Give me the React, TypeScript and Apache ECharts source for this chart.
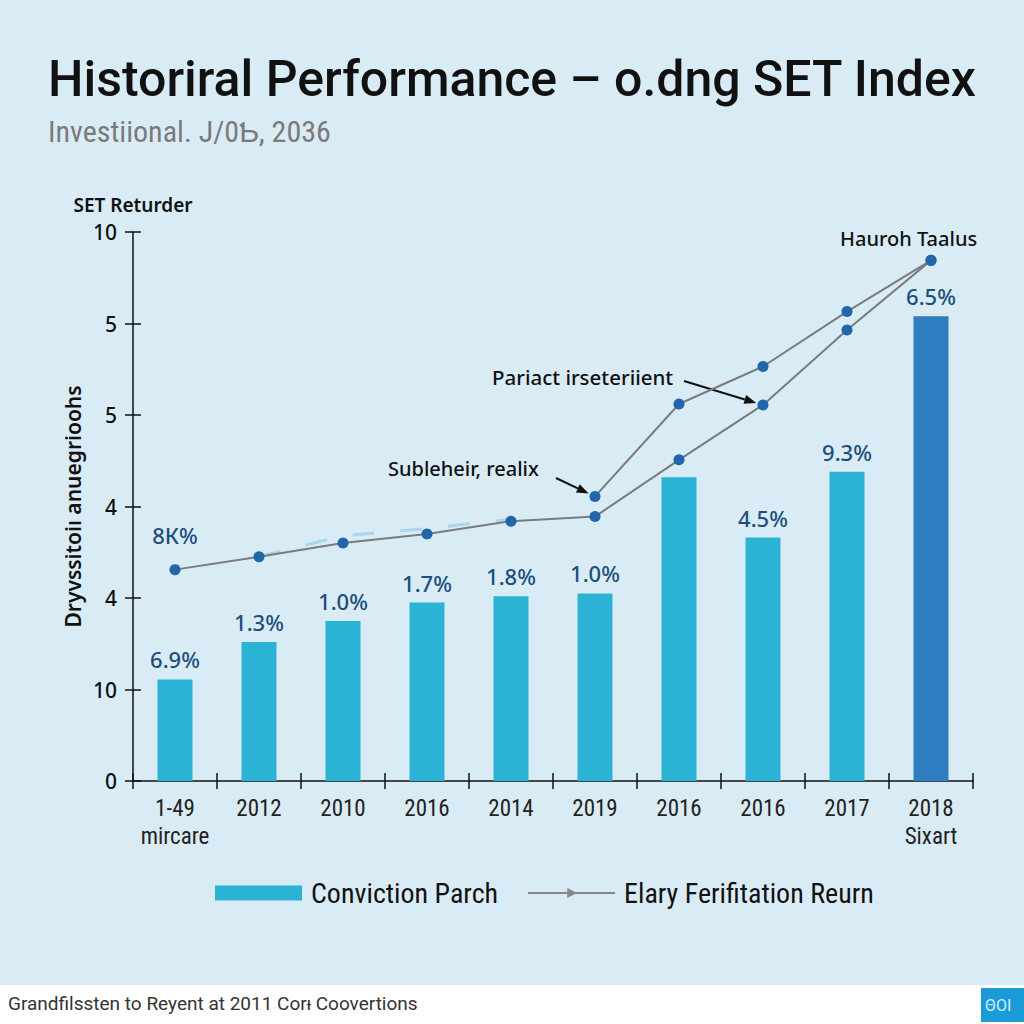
import React, { useEffect, useRef } from "react";
import * as echarts from "echarts";

const categories = ["1-49\nmircare", "2012", "2010", "2016", "2014", "2019", "2016", "2016", "2017", "2018\nSixart"];
const barValues = [1.11, 1.52, 1.75, 1.95, 2.02, 2.05, 3.32, 2.66, 3.38, 5.08];
const barLabels = ["6.9%", "1.3%", "1.0%", "1.7%", "1.8%", "1.0%", "", "4.5%", "9.3%", "6.5%"];
const lineAValues = [2.31, 2.45, 2.6, 2.7, 2.84, 2.89, 3.51, 4.11, 4.93, 5.69];
const lineALabels = ["8К%", "", "", "", "", "", "", "", "", ""];
const lineBValues = [null, null, null, null, null, 3.11, 4.12, 4.53, 5.13, 5.69];
const ghostValues = [null, 2.45, 2.68, 2.76, 2.86, null, null, null, null, null];
const yTickLabels = ["0", "10", "4", "4", "5", "5", "10"];

const titleText = "Historiral Performance – o.dng SET Index";
const subtitleText = "Investiional. J/0Ƅ, 2036";
const yAxisTopName = "SET Returder";
const yAxisSideName = "Dryvssitoiı anuegrioohs";
const barSeriesName = "Conviction Parch";
const lineSeriesName = "Elary Ferifitation Reurn";
const lineBSeriesName = "Upper Return";
const footerText = "Grandfilssten to Reyent at 2011 Corᵻ Coovertions";
const annotationTop = "Hauroh Taalus";
const annotationMid = "Pariact irseteriient";
const annotationLow = "Subleheir, realix";

const NARROW = "'Liberation Sans Narrow', 'Roboto Condensed', Roboto, sans-serif";
const SANS = "'Noto Sans', 'Open Sans', sans-serif";
const BAR = "#2bb3d6";
const BAR_LAST = "#2d7dc0";
const DOT = "#1f66ab";
const LINE = "#7b7b7b";
const LABEL = "#1d4f7c";

export default function App() {
  const ref = useRef<HTMLDivElement>(null);
  useEffect(() => {
    if (!ref.current) return;
    const chart = echarts.init(ref.current, null, { renderer: "svg" });
    const option: any = {
      animation: false,
      backgroundColor: "#d9ecf6",
      title: {
        text: titleText,
        subtext: subtitleText,
        left: 43,
        top: 49,
        itemGap: 12,
        textStyle: { fontFamily: "Roboto, sans-serif", fontSize: 50, fontWeight: 500, color: "#111" },
        subtextStyle: { fontFamily: NARROW, fontSize: 30, color: "#7a7a7a" },
      },
      legend: {
        left: 210,
        top: 874,
        itemGap: 30,
        itemWidth: 87,
        itemHeight: 15,
        textStyle: { fontFamily: NARROW, fontSize: 28, color: "#111", padding: [0, 0, 0, 4] },
        data: [
          { name: barSeriesName, icon: "rect" },
          {
            name: lineSeriesName,
            icon: "path://M0,6L80,6L80,8L0,8Z M36,2.5L45,7L36,11.5Z",
            itemStyle: { color: "#888" },
          },
        ],
      },
      grid: { left: 133, right: 51, top: 232, bottom: 243, containLabel: false },
      xAxis: [
        {
          type: "category",
          data: categories,
          axisLine: { lineStyle: { color: "#111", width: 1.5 } },
          axisTick: { show: true, length: 8, lineStyle: { color: "#111", width: 1.5 } },
          axisLabel: { interval: 0, margin: 13, fontFamily: NARROW, fontSize: 23, lineHeight: 28, color: "#222" },
        },
        {
          type: "category",
          data: categories,
          position: "bottom",
          axisLine: { show: false },
          axisTick: { show: true, inside: true, length: 8, lineStyle: { color: "#111", width: 1.5 } },
          axisLabel: { show: false },
        },
      ],
      yAxis: [
        {
          type: "value",
          min: 0,
          max: 6,
          interval: 1,
          position: "left",
          axisLine: { show: true, lineStyle: { color: "#111", width: 1.5 } },
          axisTick: { show: true, length: 8, lineStyle: { color: "#111", width: 1.5 } },
          axisLabel: {
            formatter: (v: number) => yTickLabels[v] ?? "",
            fontFamily: SANS,
            fontSize: 21,
            fontWeight: 500,
            color: "#111",
            margin: 16,
          },
          splitLine: { show: false },
          name: yAxisTopName,
          nameLocation: "end",
          nameGap: 18,
          nameTextStyle: { fontFamily: SANS, fontSize: 19, fontWeight: 600, color: "#111", align: "center" },
        },
        {
          type: "value",
          min: 0,
          max: 6,
          interval: 1,
          position: "left",
          axisLine: { show: false },
          axisTick: { show: true, inside: true, length: 8, lineStyle: { color: "#111", width: 1.5 } },
          axisLabel: { show: false },
          splitLine: { show: false },
          name: yAxisSideName,
          nameLocation: "middle",
          nameGap: 50,
          nameTextStyle: { fontFamily: SANS, fontSize: 21, fontWeight: 600, color: "#111" },
        },
      ],
      series: [
        {
          name: barSeriesName,
          type: "bar",
          barWidth: 35,
          itemStyle: { color: BAR },
          data: barValues.map((v, i) => ({
            value: v,
            itemStyle: { color: i === barValues.length - 1 ? BAR_LAST : BAR },
            label: {
              show: barLabels[i] !== "",
              position: "top",
              distance: 9,
              formatter: barLabels[i],
              fontFamily: SANS,
              fontSize: 22,
              fontWeight: 500,
              color: LABEL,
            },
          })),
        },
        {
          name: "ghost",
          type: "line",
          data: ghostValues,
          symbol: "none",
          silent: true,
          lineStyle: { color: "#9fd0ee", width: 3, type: [22, 26], opacity: 0.8 },
          z: 1,
        },
        {
          name: lineSeriesName,
          type: "line",
          symbol: "circle",
          symbolSize: 11,
          itemStyle: { color: DOT },
          lineStyle: { color: LINE, width: 2 },
          data: lineAValues.map((v, i) => ({
            value: v,
            label: {
              show: lineALabels[i] !== "",
              position: "top",
              distance: 18,
              formatter: lineALabels[i],
              fontFamily: SANS,
              fontSize: 22,
              fontWeight: 500,
              color: LABEL,
            },
          })),
          z: 3,
        },
        {
          name: lineBSeriesName,
          type: "line",
          symbol: "circle",
          symbolSize: 11,
          itemStyle: { color: DOT },
          lineStyle: { color: LINE, width: 2 },
          data: lineBValues,
          z: 3,
        },
      ],
    };
    chart.setOption(option);

    const pMid = chart.convertToPixel({ seriesIndex: 2 }, [7, lineAValues[7]]) as number[];
    const pLow = chart.convertToPixel({ seriesIndex: 3 }, [5, lineBValues[5] as number]) as number[];
    const arrow = (x1: number, y1: number, tx: number, ty: number, id: string) => {
      const dx = tx - x1;
      const dy = ty - y1;
      const len = Math.sqrt(dx * dx + dy * dy);
      const ux = dx / len;
      const uy = dy / len;
      const ex = tx - ux * 7;
      const ey = ty - uy * 7;
      const hx = ex - ux * 12;
      const hy = ey - uy * 12;
      const px = -uy * 4.5;
      const py = ux * 4.5;
      return [
        { id: id + "l", type: "line", shape: { x1, y1, x2: hx, y2: hy }, style: { stroke: "#111", lineWidth: 2 } },
        {
          id: id + "h",
          type: "polygon",
          shape: { points: [[ex, ey], [hx + px, hy + py], [hx - px, hy - py]] },
          style: { fill: "#111" },
        },
      ];
    };
    const annStyle = { fontFamily: SANS, fontSize: 20, fontWeight: 500, fill: "#111" };
    chart.setOption({
      graphic: [
        { id: "annTop", type: "text", x: 840, y: 238, style: { ...annStyle, text: annotationTop, verticalAlign: "middle" } },
        { id: "annMid", type: "text", x: 492, y: 377, style: { ...annStyle, fontSize: 20.5, text: annotationMid, verticalAlign: "middle" } },
        { id: "annLow", type: "text", x: 388, y: 468, style: { ...annStyle, text: annotationLow, verticalAlign: "middle" } },
        ...arrow(684, 381, pMid[0], pMid[1], "arrMid"),
        ...arrow(556, 478, pLow[0], pLow[1], "arrLow"),
        { id: "footBg", type: "rect", shape: { x: 0, y: 985, width: 1024, height: 39 }, style: { fill: "#ffffff" } },
        {
          id: "footText",
          type: "text",
          x: 8,
          y: 1003,
          style: { text: footerText, fontFamily: "Roboto, sans-serif", fontSize: 19, fill: "#333", verticalAlign: "middle" },
        },
        { id: "footBox", type: "rect", shape: { x: 981, y: 988, width: 43, height: 34 }, style: { fill: "#1b9ad8" } },
        {
          id: "footBoxText",
          type: "text",
          x: 985,
          y: 1005,
          style: { text: "ΘOI", fontFamily: "Roboto, sans-serif", fontSize: 16, fill: "#d6f0ff", verticalAlign: "middle" },
        },
      ],
    });

    return () => chart.dispose();
  }, []);
  return <div ref={ref} style={{ position: "fixed", left: 0, top: 0, width: 1024, height: 1024 }} />;
}
